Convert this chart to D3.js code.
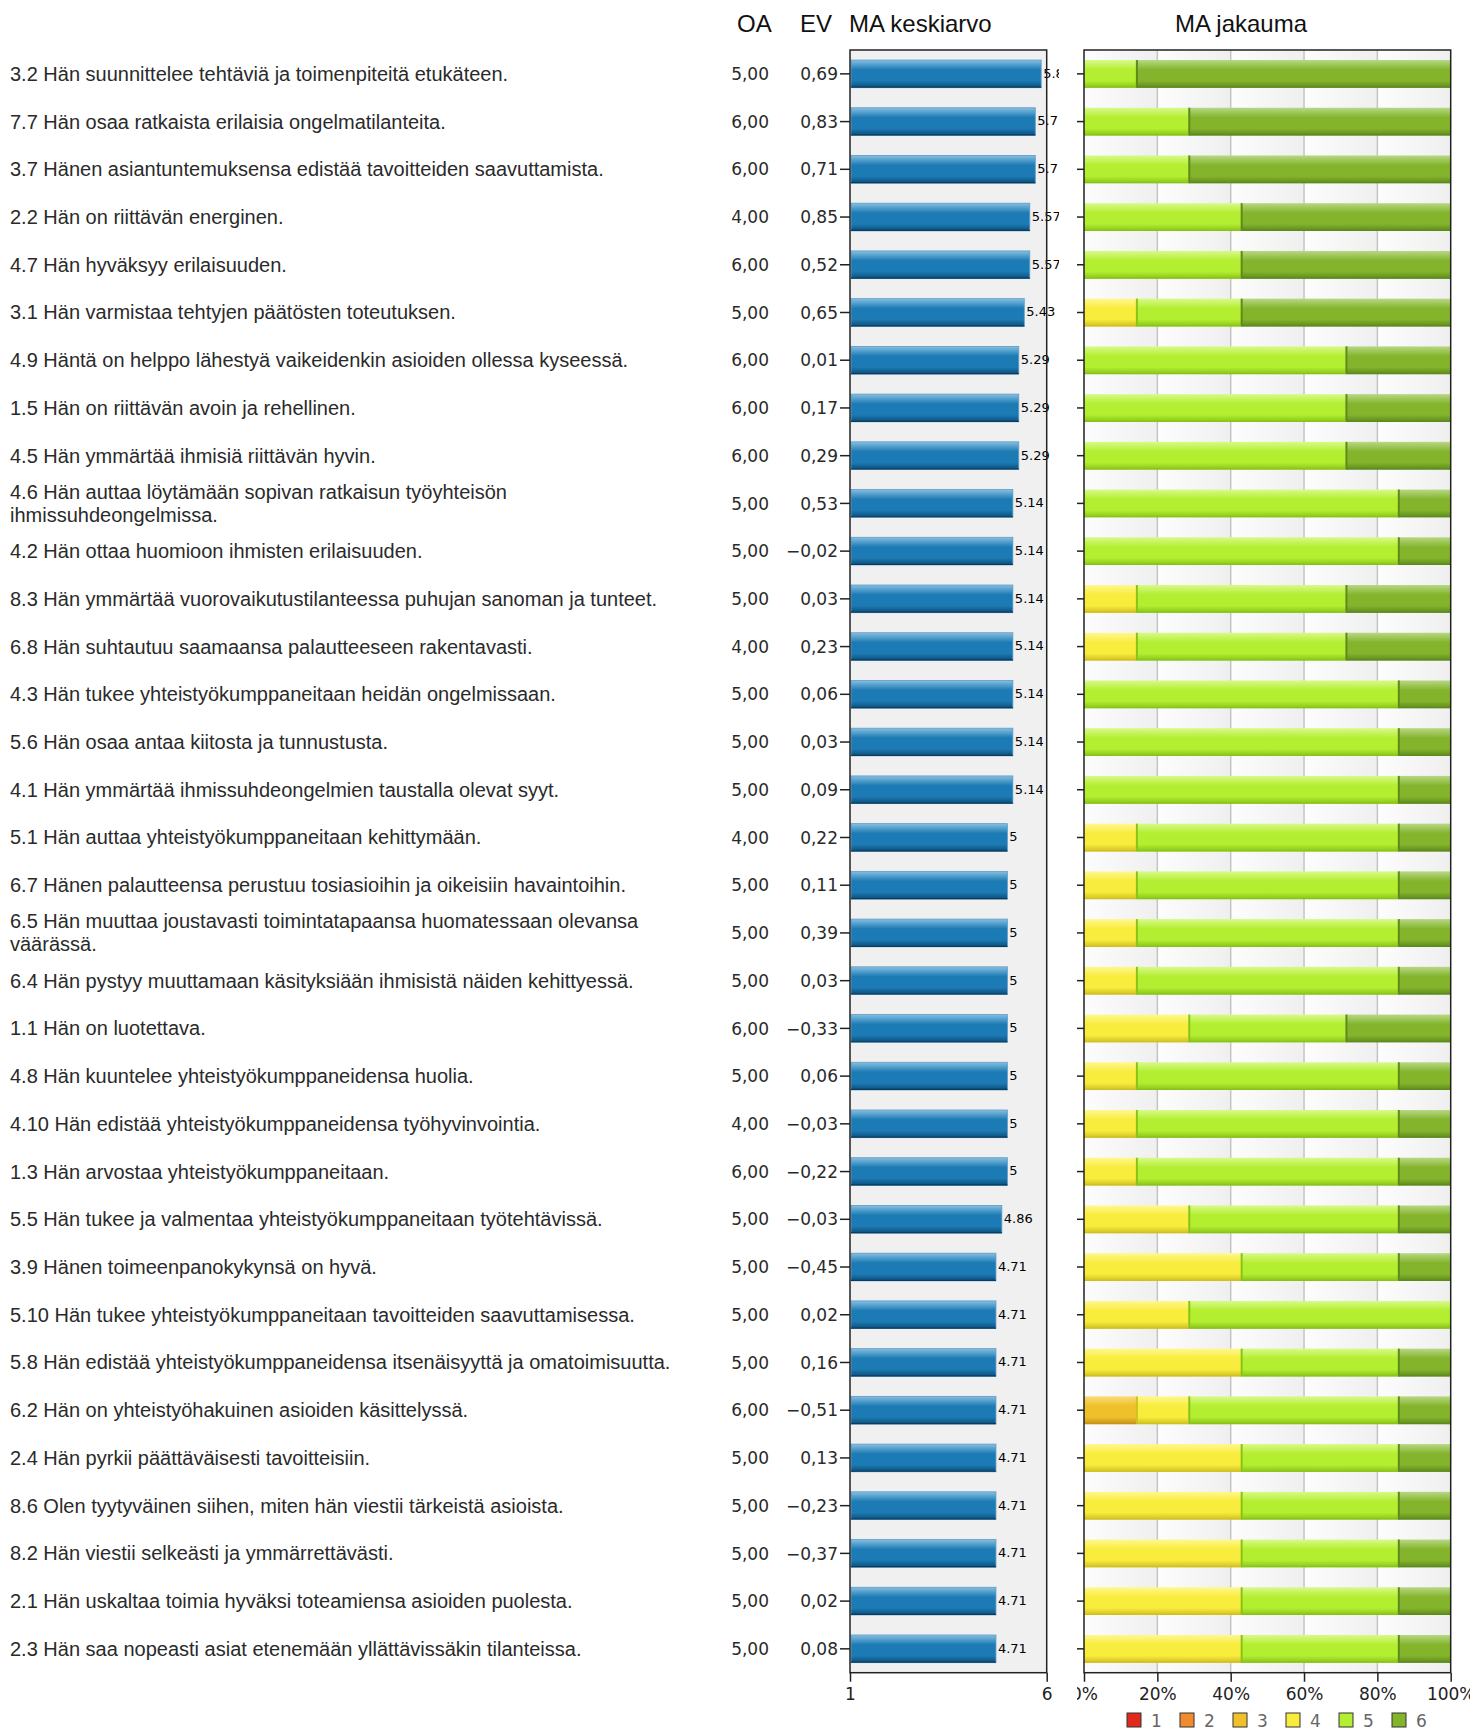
<!DOCTYPE html>
<html>
<head>
<meta charset="utf-8">
<script src="https://cdn.jsdelivr.net/npm/d3@7"></script>
<style>
  html, body { margin: 0; padding: 0; background: #ffffff; }
  svg { display: block; }
</style>
</head>
<body>
<svg id="chart" width="1484" height="1731"></svg>
<script>
// ---------------- DATA ----------------
const questions = [
  "3.2 Hän suunnittelee tehtäviä ja toimenpiteitä etukäteen.",
  "7.7 Hän osaa ratkaista erilaisia ongelmatilanteita.",
  "3.7 Hänen asiantuntemuksensa edistää tavoitteiden saavuttamista.",
  "2.2 Hän on riittävän energinen.",
  "4.7 Hän hyväksyy erilaisuuden.",
  "3.1 Hän varmistaa tehtyjen päätösten toteutuksen.",
  "4.9 Häntä on helppo lähestyä vaikeidenkin asioiden ollessa kyseessä.",
  "1.5 Hän on riittävän avoin ja rehellinen.",
  "4.5 Hän ymmärtää ihmisiä riittävän hyvin.",
  "4.6 Hän auttaa löytämään sopivan ratkaisun työyhteisön ihmissuhdeongelmissa.",
  "4.2 Hän ottaa huomioon ihmisten erilaisuuden.",
  "8.3 Hän ymmärtää vuorovaikutustilanteessa puhujan sanoman ja tunteet.",
  "6.8 Hän suhtautuu saamaansa palautteeseen rakentavasti.",
  "4.3 Hän tukee yhteistyökumppaneitaan heidän ongelmissaan.",
  "5.6 Hän osaa antaa kiitosta ja tunnustusta.",
  "4.1 Hän ymmärtää ihmissuhdeongelmien taustalla olevat syyt.",
  "5.1 Hän auttaa yhteistyökumppaneitaan kehittymään.",
  "6.7 Hänen palautteensa perustuu tosiasioihin ja oikeisiin havaintoihin.",
  "6.5 Hän muuttaa joustavasti toimintatapaansa huomatessaan olevansa väärässä.",
  "6.4 Hän pystyy muuttamaan käsityksiään ihmisistä näiden kehittyessä.",
  "1.1 Hän on luotettava.",
  "4.8 Hän kuuntelee yhteistyökumppaneidensa huolia.",
  "4.10 Hän edistää yhteistyökumppaneidensa työhyvinvointia.",
  "1.3 Hän arvostaa yhteistyökumppaneitaan.",
  "5.5 Hän tukee ja valmentaa yhteistyökumppaneitaan työtehtävissä.",
  "3.9 Hänen toimeenpanokykynsä on hyvä.",
  "5.10 Hän tukee yhteistyökumppaneitaan tavoitteiden saavuttamisessa.",
  "5.8 Hän edistää yhteistyökumppaneidensa itsenäisyyttä ja omatoimisuutta.",
  "6.2 Hän on yhteistyöhakuinen asioiden käsittelyssä.",
  "2.4 Hän pyrkii päättäväisesti tavoitteisiin.",
  "8.6 Olen tyytyväinen siihen, miten hän viestii tärkeistä asioista.",
  "8.2 Hän viestii selkeästi ja ymmärrettävästi.",
  "2.1 Hän uskaltaa toimia hyväksi toteamiensa asioiden puolesta.",
  "2.3 Hän saa nopeasti asiat etenemään yllättävissäkin tilanteissa."
];

const oaValues = [5,6,6,4,6,5,6,6,6,5,5,5,4,5,5,5,4,5,5,5,6,5,4,6,5,5,5,5,6,5,5,5,5,5];

const evValues = [0.69,0.83,0.71,0.85,0.52,0.65,0.01,0.17,0.29,0.53,-0.02,0.03,0.23,0.06,0.03,0.09,
                  0.22,0.11,0.39,0.03,-0.33,0.06,-0.03,-0.22,-0.03,-0.45,0.02,0.16,-0.51,0.13,-0.23,-0.37,0.02,0.08];

const maMeans = [5.86,5.71,5.71,5.57,5.57,5.43,5.29,5.29,5.29,5.14,5.14,5.14,5.14,5.14,5.14,5.14,
                 5,5,5,5,5,5,5,5,4.86,4.71,4.71,4.71,4.71,4.71,4.71,4.71,4.71,4.71];

// Distribution of answers (counts of responses 1..6, 7 respondents)
const dist1 = [0,0,0,0,0,0,0,0,0,0,0,0,0,0,0,0,0,0,0,0,0,0,0,0,0,0,0,0,0,0,0,0,0,0];
const dist2 = [0,0,0,0,0,0,0,0,0,0,0,0,0,0,0,0,0,0,0,0,0,0,0,0,0,0,0,0,0,0,0,0,0,0];
const dist3 = [0,0,0,0,0,0,0,0,0,0,0,0,0,0,0,0,0,0,0,0,0,0,0,0,0,0,0,0,1,0,0,0,0,0];
const dist4 = [0,0,0,0,0,1,0,0,0,0,0,1,1,0,0,0,1,1,1,1,2,1,1,1,2,3,2,3,1,3,3,3,3,3];
const dist5 = [1,2,2,3,3,2,5,5,5,6,6,4,4,6,6,6,5,5,5,5,3,5,5,5,4,3,5,3,4,3,3,3,3,3];
const dist6 = [6,5,5,4,4,4,2,2,2,1,1,2,2,1,1,1,1,1,1,1,2,1,1,1,1,1,0,1,1,1,1,1,1,1];

const answerLevels = ["1","2","3","4","5","6"];
const meanTicks = [1, 6];
const pctTicks = [0, 0.2, 0.4, 0.6, 0.8, 1];
const headers = { oa: "OA", ev: "EV", mean: "MA keskiarvo", dist: "MA jakauma" };

// ---------------- LAYOUT ----------------
const svg = d3.select("#chart");
const plotTop = 50, plotBottom = 1672.7;
const meanLeft = 850, meanRight = 1046.7;
const distLeft = 1084, distRight = 1450.7;
const oaX = 769, evX = 838, labelX = 10;
const numFont = "'DejaVu Sans', Verdana, sans-serif";
const txtFont = "'Liberation Sans', Arial, sans-serif";

const rows = questions.map((q, i) => ({
  i, q, oa: oaValues[i], ev: evValues[i], mean: maMeans[i],
  d: [dist1[i], dist2[i], dist3[i], dist4[i], dist5[i], dist6[i]]
}));

const y = d3.scaleBand().domain(d3.range(rows.length)).range([plotTop, plotBottom]).paddingInner(0.42).paddingOuter(0.21);
const xMean = d3.scaleLinear().domain([1, 6]).range([meanLeft, meanRight]);
const xPct = d3.scaleLinear().domain([0, 1]).range([distLeft, distRight]);

const loc = d3.formatLocale({ decimal: ",", thousands: " ", grouping: [3], minus: "\u2212" });
const f2 = loc.format(".2f");
const meanFmt = v => String(+v.toFixed(2));

const colors = ["#e02a1c", "#f28a2e", "#f0c02a", "#f8ec3c", "#b4ee30", "#84b42c"];
const colorsLight = ["#f07a70", "#f8b880", "#f8dc78", "#fff890", "#d8fa8a", "#b8d884"];
const colorsDark = ["#a01810", "#b8601a", "#c49418", "#d0c020", "#88c418", "#5e8a1c"];

// ---------------- DEFS ----------------
const defs = svg.append("defs");
function vGrad(id, light, mid, dark) {
  const g = defs.append("linearGradient").attr("id", id).attr("x1", 0).attr("y1", 0).attr("x2", 0).attr("y2", 1);
  g.append("stop").attr("offset", "0%").attr("stop-color", light);
  g.append("stop").attr("offset", "35%").attr("stop-color", mid);
  g.append("stop").attr("offset", "75%").attr("stop-color", mid);
  g.append("stop").attr("offset", "100%").attr("stop-color", dark);
}
vGrad("gBlue", "#86bfe2", "#1c7bb4", "#0c4d7a");
colors.forEach((c, k) => vGrad("gSeg" + k, colorsLight[k], c, colorsDark[k]));

const bgG = defs.append("linearGradient").attr("id", "gCell").attr("x1", 0).attr("y1", 0).attr("x2", 1).attr("y2", 0);
bgG.append("stop").attr("offset", "0%").attr("stop-color", "#fdfdfd");
bgG.append("stop").attr("offset", "100%").attr("stop-color", "#efefef");

defs.append("clipPath").attr("id", "clipMean").append("rect")
  .attr("x", meanLeft).attr("y", 0).attr("width", 1059 - meanLeft).attr("height", 1731);
defs.append("clipPath").attr("id", "clipDistAxis").append("rect")
  .attr("x", 1077).attr("y", 0).attr("width", 1470 - 1077).attr("height", 1731);

// ---------------- HEADERS ----------------
const hdr = svg.append("g").attr("font-family", txtFont).attr("font-size", 24).attr("fill", "#111");
hdr.append("text").attr("x", 737).attr("y", 32).text(headers.oa);
hdr.append("text").attr("x", 800).attr("y", 32).text(headers.ev);
hdr.append("text").attr("x", 849).attr("y", 32).text(headers.mean);
hdr.append("text").attr("x", 1175).attr("y", 32).text(headers.dist);

// ---------------- QUESTION LABELS ----------------
const maxLabelW = 700;
const lab = svg.append("g").attr("font-family", txtFont).attr("font-size", 20).attr("fill", "#2a2a2a");
rows.forEach(r => {
  const t = lab.append("text").attr("x", labelX);
  const words = r.q.split(" ");
  const lines = [];
  let cur = [];
  const tmp = lab.append("text").attr("visibility", "hidden");
  words.forEach(w => {
    const test = cur.concat([w]).join(" ");
    tmp.text(test);
    if (cur.length && tmp.node().getComputedTextLength() > maxLabelW) { lines.push(cur.join(" ")); cur = [w]; }
    else cur.push(w);
  });
  lines.push(cur.join(" "));
  tmp.remove();
  const cy = y(r.i) + y.bandwidth() / 2;
  const lh = 23;
  lines.forEach((ln, k) => {
    t.append("tspan").attr("x", labelX)
      .attr("y", cy + (k - (lines.length - 1) / 2) * lh)
      .attr("dy", "0.35em").text(ln);
  });
});

// ---------------- OA / EV columns ----------------
const nums = svg.append("g").attr("font-family", numFont).attr("font-size", 17).attr("fill", "#2a2a2a").attr("text-anchor", "end");
nums.selectAll("text.oa").data(rows).join("text").attr("class", "oa")
  .attr("x", oaX).attr("y", d => y(d.i) + y.bandwidth() / 2).attr("dy", "0.36em").text(d => f2(d.oa));
nums.selectAll("text.ev").data(rows).join("text").attr("class", "ev")
  .attr("x", evX).attr("y", d => y(d.i) + y.bandwidth() / 2).attr("dy", "0.36em").text(d => f2(d.ev));

// ---------------- MEAN CHART ----------------
svg.append("rect").attr("x", meanLeft).attr("y", plotTop).attr("width", meanRight - meanLeft).attr("height", plotBottom - plotTop)
  .attr("fill", "#f0f0f0");

const meanG = svg.append("g");
meanG.selectAll("rect.bar").data(rows).join("rect").attr("class", "bar")
  .attr("x", xMean(1) + 1).attr("y", d => y(d.i))
  .attr("width", d => xMean(d.mean) - xMean(1) - 1).attr("height", y.bandwidth())
  .attr("fill", "url(#gBlue)").attr("stroke", "#5d9cc4").attr("stroke-width", 0.8);
meanG.selectAll("line.bshade").data(rows).join("line").attr("class", "bshade")
  .attr("x1", xMean(1) + 1).attr("x2", d => xMean(d.mean))
  .attr("y1", d => y(d.i) + y.bandwidth() - 0.5).attr("y2", d => y(d.i) + y.bandwidth() - 0.5)
  .attr("stroke", "#0a3c60").attr("stroke-width", 1.2);

svg.append("g").attr("clip-path", "url(#clipMean)")
  .attr("font-family", numFont).attr("font-size", 13).attr("fill", "#000")
  .selectAll("text").data(rows).join("text")
  .attr("x", d => xMean(d.mean) + 2).attr("y", d => y(d.i) + y.bandwidth() / 2).attr("dy", "0.3em")
  .text(d => meanFmt(d.mean));

svg.append("rect").attr("x", meanLeft).attr("y", plotTop).attr("width", meanRight - meanLeft).attr("height", plotBottom - plotTop)
  .attr("fill", "none").attr("stroke", "#222").attr("stroke-width", 1.5);

// row ticks
svg.append("g").selectAll("line").data(rows).join("line")
  .attr("x1", meanLeft - 10).attr("x2", meanLeft)
  .attr("y1", d => y(d.i) + y.bandwidth() / 2).attr("y2", d => y(d.i) + y.bandwidth() / 2)
  .attr("stroke", "#222").attr("stroke-width", 1.5);

const axM = svg.append("g").attr("transform", `translate(0,${plotBottom})`)
  .call(d3.axisBottom(xMean).tickValues(meanTicks).tickFormat(d3.format("d")).tickSize(9).tickPadding(6));
axM.select(".domain").remove();
axM.selectAll("line").attr("stroke", "#222").attr("stroke-width", 1.5);
axM.selectAll("text").attr("font-family", numFont).attr("font-size", 17).attr("fill", "#222");

// ---------------- DISTRIBUTION CHART ----------------
const cells = d3.range(5);
svg.append("g").selectAll("rect").data(cells).join("rect")
  .attr("x", k => xPct(k * 0.2)).attr("y", plotTop)
  .attr("width", xPct(0.2) - xPct(0)).attr("height", plotBottom - plotTop)
  .attr("fill", "url(#gCell)");
svg.append("g").selectAll("line").data(pctTicks.slice(1, -1)).join("line")
  .attr("x1", d => xPct(d)).attr("x2", d => xPct(d)).attr("y1", plotTop).attr("y2", plotBottom)
  .attr("stroke", "#c4c4c4").attr("stroke-width", 1.5);

const segs = [];
rows.forEach(r => {
  const tot = d3.sum(r.d);
  let acc = 0;
  r.d.forEach((c, k) => {
    if (c > 0) segs.push({ i: r.i, k, x0: acc / tot, x1: (acc + c) / tot });
    acc += c;
  });
});
const distG = svg.append("g");
distG.selectAll("rect").data(segs).join("rect")
  .attr("x", s => xPct(s.x0)).attr("y", s => y(s.i))
  .attr("width", s => xPct(s.x1) - xPct(s.x0)).attr("height", y.bandwidth())
  .attr("fill", s => `url(#gSeg${s.k})`);
distG.selectAll("line.sep").data(segs.filter(s => s.x0 > 0)).join("line").attr("class", "sep")
  .attr("x1", s => xPct(s.x0) + 0.5).attr("x2", s => xPct(s.x0) + 0.5)
  .attr("y1", s => y(s.i)).attr("y2", s => y(s.i) + y.bandwidth())
  .attr("stroke", s => colorsDark[s.k]).attr("stroke-width", 2);
distG.selectAll("line.bot").data(segs).join("line").attr("class", "bot")
  .attr("x1", s => xPct(s.x0)).attr("x2", s => xPct(s.x1))
  .attr("y1", s => y(s.i) + y.bandwidth() - 0.5).attr("y2", s => y(s.i) + y.bandwidth() - 0.5)
  .attr("stroke", s => colorsDark[s.k]).attr("stroke-width", 1.2);

svg.append("rect").attr("x", distLeft).attr("y", plotTop).attr("width", distRight - distLeft).attr("height", plotBottom - plotTop)
  .attr("fill", "none").attr("stroke", "#222").attr("stroke-width", 1.5);

svg.append("g").selectAll("line").data(rows).join("line")
  .attr("x1", distLeft - 7).attr("x2", distLeft)
  .attr("y1", d => y(d.i) + y.bandwidth() / 2).attr("y2", d => y(d.i) + y.bandwidth() / 2)
  .attr("stroke", "#222").attr("stroke-width", 1.5);

const axD = svg.append("g").attr("transform", `translate(0,${plotBottom})`).attr("clip-path", "url(#clipDistAxis)")
  .call(d3.axisBottom(xPct).tickValues(pctTicks).tickFormat(d3.format(".0%")).tickSize(9).tickPadding(6));
axD.select(".domain").remove();
axD.selectAll("line").attr("stroke", "#222").attr("stroke-width", 1.5);
axD.selectAll("text").attr("font-family", numFont).attr("font-size", 17).attr("fill", "#222");

// ---------------- LEGEND ----------------
const legX = d3.scalePoint().domain(answerLevels).range([1127, 1392]);
const leg = svg.append("g").selectAll("g").data(answerLevels).join("g")
  .attr("transform", d => `translate(${legX(d)},1713)`);
leg.append("rect").attr("width", 14).attr("height", 14)
  .attr("fill", (d, k) => colors[k]).attr("stroke", "#333").attr("stroke-width", 1);
leg.append("text").attr("x", 24).attr("y", 14).attr("font-family", numFont).attr("font-size", 17)
  .attr("fill", "#666").text(d => d);
</script>
</body>
</html>
